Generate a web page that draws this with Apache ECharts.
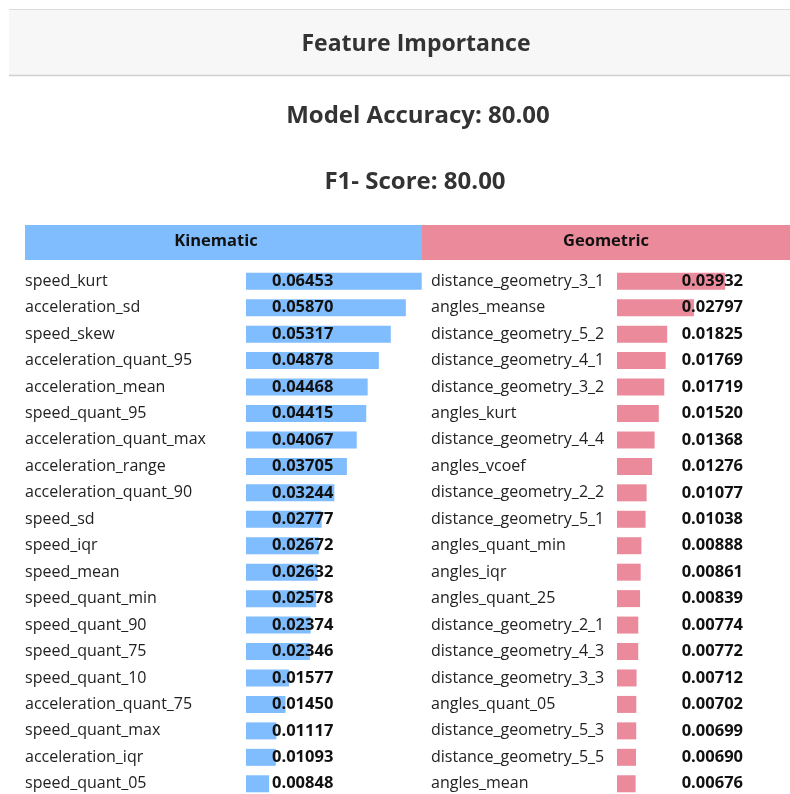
<!DOCTYPE html>
<html>
<head>
<meta charset="utf-8">
<script src="https://cdn.jsdelivr.net/npm/echarts@6/dist/echarts.min.js"></script>
<style>
  html, body { margin: 0; padding: 0; background: #fff; overflow: hidden; }
  #chart { width: 790px; height: 810px; }
</style>
</head>
<body>
<div id="chart"></div>
<script>
// kinematic features (left column)
const kinematicNames = [
  "speed_kurt", "acceleration_sd", "speed_skew", "acceleration_quant_95",
  "acceleration_mean", "speed_quant_95", "acceleration_quant_max", "acceleration_range",
  "acceleration_quant_90", "speed_sd", "speed_iqr", "speed_mean",
  "speed_quant_min", "speed_quant_90", "speed_quant_75", "speed_quant_10",
  "acceleration_quant_75", "speed_quant_max", "acceleration_iqr", "speed_quant_05"
];
const kinematicValues = [
  0.06453, 0.05870, 0.05317, 0.04878, 0.04468, 0.04415, 0.04067, 0.03705,
  0.03244, 0.02777, 0.02672, 0.02632, 0.02578, 0.02374, 0.02346, 0.01577,
  0.01450, 0.01117, 0.01093, 0.00848
];

// geometric features (right column)
const geometricNames = [
  "distance_geometry_3_1", "angles_meanse", "distance_geometry_5_2", "distance_geometry_4_1",
  "distance_geometry_3_2", "angles_kurt", "distance_geometry_4_4", "angles_vcoef",
  "distance_geometry_2_2", "distance_geometry_5_1", "angles_quant_min", "angles_iqr",
  "angles_quant_25", "distance_geometry_2_1", "distance_geometry_4_3", "distance_geometry_3_3",
  "angles_quant_05", "distance_geometry_5_3", "distance_geometry_5_5", "angles_mean"
];
const geometricValues = [
  0.03932, 0.02797, 0.01825, 0.01769, 0.01719, 0.01520, 0.01368, 0.01276,
  0.01077, 0.01038, 0.00888, 0.00861, 0.00839, 0.00774, 0.00772, 0.00712,
  0.00702, 0.00699, 0.00690, 0.00676
];

const groupNames = ["Kinematic", "Geometric"];
const accuracy = 80.0;
const f1Score = 80.0;

const BLUE = "#80bdff";
const PINK = "#eb8a9b";
const FONT = "'Open Sans', 'Noto Sans', sans-serif";

const chart = echarts.init(document.getElementById("chart"));

function makeAxes(gridIndex, names, margin) {
  return {
    x: {
      gridIndex, type: "value", min: 0, max: gridIndex === 0 ? 0.065 : 0.04,
      show: false
    },
    y: {
      gridIndex, type: "category", data: names, inverse: true,
      axisLine: { show: false }, axisTick: { show: false }, splitLine: { show: false },
      axisLabel: {
        align: "left", margin, color: "#222", fontSize: 16, fontFamily: FONT
      }
    }
  };
}

const leftAxes = makeAxes(0, kinematicNames, 221);
const rightAxes = makeAxes(1, geometricNames, 186);

function valueLabel(pos, align) {
  return {
    show: true,
    position: pos,
    align,
    verticalAlign: "middle",
    color: "#111",
    fontSize: 16.5,
    fontWeight: "bold",
    fontFamily: FONT,
    formatter: (p) => p.value.toFixed(5)
  };
}

function titleStyle(size) {
  return { fontSize: size, fontWeight: "bold", color: "#333", fontFamily: FONT };
}

chart.setOption({
  animation: false,
  title: [
    { text: "Feature Importance", left: 411, top: 28, textAlign: "center", textStyle: titleStyle(23) },
    { text: "Model Accuracy: " + accuracy.toFixed(2), left: 413, top: 99, textAlign: "center", textStyle: titleStyle(24) },
    { text: "F1- Score: " + f1Score.toFixed(2), left: 410, top: 165, textAlign: "center", textStyle: titleStyle(24) }
  ],
  graphic: [
    { type: "rect", shape: { x: 9, y: 9, width: 800, height: 66 },
      style: { fill: "#f7f7f7", stroke: null }, z: -10 },
    { type: "line", shape: { x1: 9, y1: 9.5, x2: 800, y2: 9.5 },
      style: { stroke: "#dcdcdc", lineWidth: 1 } },
    { type: "line", shape: { x1: 9, y1: 75.5, x2: 800, y2: 75.5 },
      style: { stroke: "#d0d0d0", lineWidth: 1.5 } },
    { type: "rect", shape: { x: 25, y: 225, width: 397, height: 35 },
      style: { fill: BLUE } },
    { type: "rect", shape: { x: 422, y: 225, width: 380, height: 35 },
      style: { fill: PINK } },
    { type: "text", x: 216, y: 241,
      style: { text: groupNames[0], align: "center", verticalAlign: "middle",
        fontSize: 16.5, fontWeight: "bold", fill: "#111", fontFamily: FONT } },
    { type: "text", x: 606, y: 241,
      style: { text: groupNames[1], align: "center", verticalAlign: "middle",
        fontSize: 16.5, fontWeight: "bold", fill: "#111", fontFamily: FONT } }
  ],
  grid: [
    { left: 246, top: 268, width: 177, height: 529 },
    { left: 617, top: 268, width: 110, height: 529 }
  ],
  xAxis: [leftAxes.x, rightAxes.x],
  yAxis: [leftAxes.y, rightAxes.y],
  series: [
    {
      type: "bar", xAxisIndex: 0, yAxisIndex: 0, data: kinematicValues,
      barWidth: 17, itemStyle: { color: BLUE },
      label: valueLabel([26, "50%"], "left")
    },
    {
      type: "bar", xAxisIndex: 1, yAxisIndex: 1, data: geometricValues,
      barWidth: 17, itemStyle: { color: PINK },
      label: valueLabel([126, "50%"], "right")
    }
  ]
});
</script>
</body>
</html>
